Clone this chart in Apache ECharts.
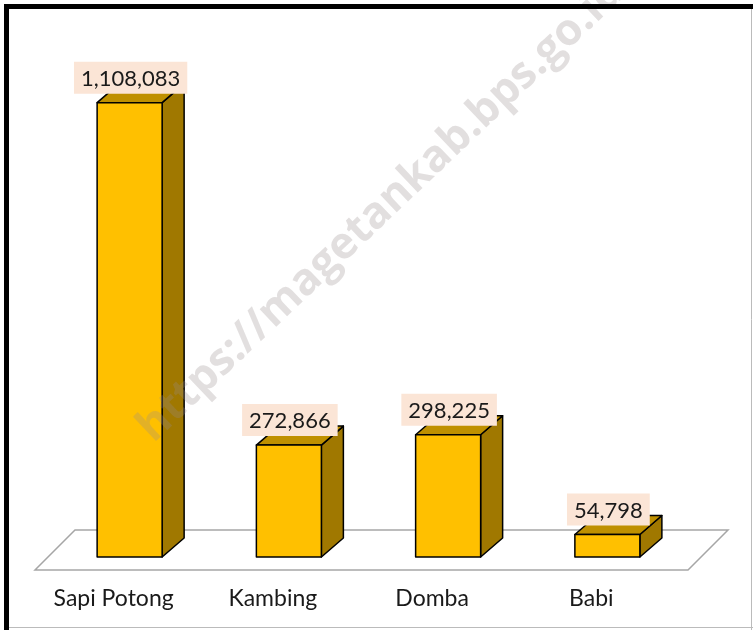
<!DOCTYPE html>
<html>
<head>
<meta charset="utf-8">
<script src="https://cdn.jsdelivr.net/npm/echarts@6/dist/echarts.min.js"></script>
<style>
html, body { margin: 0; padding: 0; background: #fff; }
#chart { width: 753px; height: 630px; }
</style>
</head>
<body>
<div id="chart"></div>
<script>
const categories = ['Sapi Potong', 'Kambing', 'Domba', 'Babi'];
const values = [1108083, 272866, 298225, 54798];
const watermark = 'https://magetankab.bps.go.id';

const chart = echarts.init(document.getElementById('chart'));

// depth of the fake 3d bars, and how far they sit right of the label centre
const DX = 22, DY = -19;
const SHIFT = 16;
const BAR_W = 65;

const renderBar = (params, api) => {
    const i = api.value(0);
    const v = api.value(1);
    const top = api.coord([i, v]);
    const base = api.coord([i, 0]);
    const x0 = top[0] + SHIFT - BAR_W / 2, x1 = x0 + BAR_W;
    const y0 = top[1], y1 = base[1];
    const line = { stroke: '#000', lineWidth: 1.5, lineJoin: 'round' };
    return {
        type: 'group',
        children: [
            { type: 'polygon', shape: { points: [[x1, y1], [x1 + DX, y1 + DY], [x1 + DX, y0 + DY], [x1, y0]] }, style: { fill: '#a07800', ...line } },
            { type: 'polygon', shape: { points: [[x0, y0], [x0 + DX, y0 + DY], [x1 + DX, y0 + DY], [x1, y0]] }, style: { fill: '#bf9000', ...line } },
            { type: 'rect', shape: { x: x0, y: y0, width: BAR_W, height: y1 - y0 }, style: { fill: '#ffc000', ...line } },
            {
                type: 'text', x: (x0 + x1) / 2 + 1, y: y0 - 9, z2: 10,
                style: {
                    text: v.toLocaleString('en-US'), font: '22px Lato', fill: '#1a1a1a',
                    align: 'center', verticalAlign: 'bottom',
                    backgroundColor: '#fbe5d6', padding: [6, 7, 4, 7]
                }
            }
        ]
    };
};

// the grey floor the bars stand on
const renderFloor = (params, api) => {
    const cs = params.coordSys;
    const zeroY = api.coord([0, 0])[1];
    const fy = zeroY + 13, by = zeroY - 27;
    const fl = cs.x + 1, fr = cs.x + cs.width + 17;
    return {
        type: 'polygon',
        shape: { points: [[fl, fy], [fr, fy], [fr + 40, by], [fl + 40, by]] },
        style: { fill: '#fff', stroke: '#a6a6a6', lineWidth: 1.5 }
    };
};

const option = {
    backgroundColor: '#fff',
    animation: false,
    grid: { left: 34, right: 82, top: 65, bottom: 73 },
    xAxis: {
        type: 'category',
        data: categories,
        axisLine: { show: false },
        axisTick: { show: false },
        axisLabel: { margin: 30, fontFamily: 'Lato', fontSize: 23, color: '#1a1a1a' }
    },
    yAxis: { type: 'value', min: 0, max: 1200000, show: false },
    series: [
        { type: 'custom', renderItem: renderFloor, data: [[0, 0]], z: 1, silent: true },
        { type: 'custom', renderItem: renderBar, data: values.map((v, i) => [i, v]), z: 2 }
    ],
    graphic: [
        {
            type: 'text', x: 160, y: 450, rotation: 43.5 * Math.PI / 180, z: 50, silent: true,
            style: { text: watermark, font: 'bold 44px "Open Sans"', fill: 'rgba(150,140,140,0.28)', verticalAlign: 'bottom' }
        },
        { type: 'rect', z: 60, shape: { x: 6.5, y: 6.5, width: 800, height: 700 }, style: { fill: 'none', stroke: '#000', lineWidth: 5 } },
        { type: 'line', z: 60, shape: { x1: 751.5, y1: 9, x2: 751.5, y2: 630 }, style: { stroke: '#bbb', lineWidth: 1 } },
        { type: 'line', z: 60, shape: { x1: 9, y1: 627.5, x2: 753, y2: 627.5 }, style: { stroke: '#bbb', lineWidth: 1 } }
    ]
};

chart.setOption(option);
</script>
</body>
</html>
